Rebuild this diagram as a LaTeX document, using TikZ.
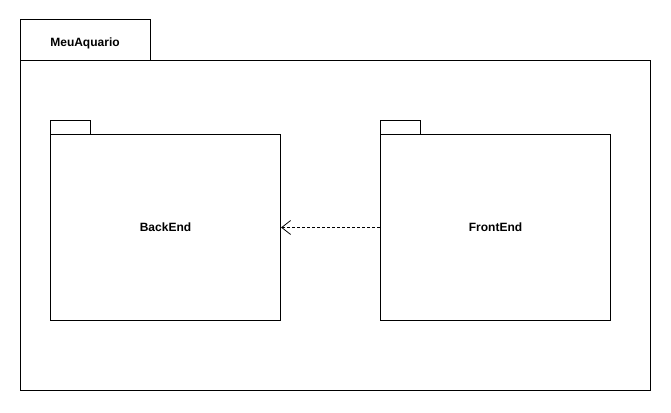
\documentclass[tikz,border=0pt]{standalone}
\usepackage{fontspec}
\setmainfont{Liberation Sans}
\usetikzlibrary{arrows.meta}
\begin{document}
\begin{tikzpicture}[x=1pt,y=-1pt,
  box/.style={draw=black,line width=1pt,fill=white},
  lbl/.style={font=\fontsize{12}{14}\selectfont\bfseries,inner sep=0pt},
  dep/.style={draw=black,line width=0.8pt,dash pattern=on 3pt off 2pt,-{Straight Barb[length=9pt,width=14pt,line width=0.8pt]}}]
\useasboundingbox[fill=white] (0,0) rectangle (671,412);
% outer package
\draw[box] (20,20) rectangle (150,60);
\draw[box] (20,60) rectangle (650,390);
\node[lbl] (mtitle) at (85,43) {MeuAquario};
% BackEnd
\draw[box] (50,120) rectangle (90,134);
\node[box,minimum width=230pt,minimum height=186pt,inner sep=0pt,anchor=north west] (back) at (50,134) {};
\node[lbl] (backl) at (back.center) {BackEnd};
% FrontEnd
\draw[box] (380,120) rectangle (420,134);
\node[box,minimum width=230pt,minimum height=186pt,inner sep=0pt,anchor=north west] (front) at (380,134) {};
\node[lbl] (frontl) at (front.center) {FrontEnd};
% dependency
\draw[dep] (front.west) -- (back.east);
\end{tikzpicture}
\end{document}
